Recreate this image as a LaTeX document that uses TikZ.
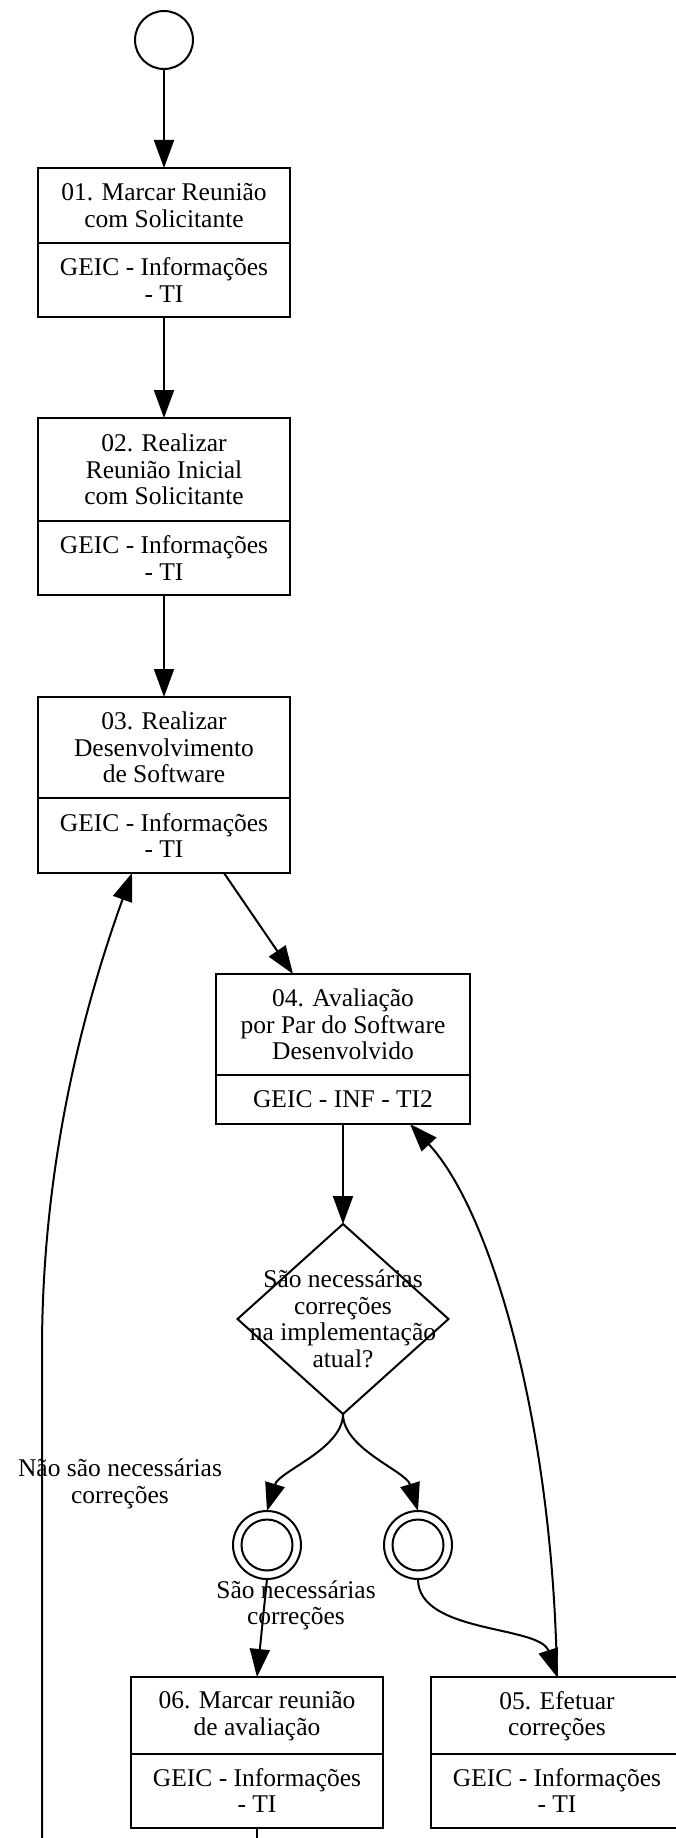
\documentclass[tikz,border=0pt]{standalone}
\usepackage{fontspec}
\setmainfont{Liberation Serif}
\usetikzlibrary{shapes.geometric,arrows.meta}
\begin{document}
\begin{tikzpicture}[x=1pt,y=-1pt,
  every node/.style={inner sep=0pt, outer sep=0pt},
  txt/.style={align=center, font=\fontsize{25.5}{26.5}\selectfont},
  proc/.style={draw, line width=2pt, rectangle, minimum width=252pt},
  conn/.style={line width=2pt, -{Triangle[length=28pt,width=20pt]}},
  plain/.style={line width=2pt},
  ring/.style={draw, circle, line width=2pt}
]
\useasboundingbox (0,0) rectangle (676,1838);

% start
\node[ring, minimum size=58pt] (start) at (164,40) {};

% box 01
\node[proc, minimum height=149pt] (b1) at (164,242.5) {};
\draw[plain] ([yshift=-75pt]b1.north west) -- ([yshift=-75pt]b1.north east);
\node[txt] (t1a) at (164,205.5) {01. Marcar Reunião\\com Solicitante};
\node[txt] (t1b) at (164,280) {GEIC - Informações\\- TI};

% box 02
\node[proc, minimum height=177pt] (b2) at (164,506.5) {};
\draw[plain] ([yshift=-103pt]b2.north west) -- ([yshift=-103pt]b2.north east);
\node[txt] (t2a) at (164,469.5) {02. Realizar\\Reunião Inicial\\com Solicitante};
\node[txt] (t2b) at (164,558) {GEIC - Informações\\- TI};

% box 03
\node[proc, minimum height=176pt] (b3) at (164,785) {};
\draw[plain] ([yshift=-101pt]b3.north west) -- ([yshift=-101pt]b3.north east);
\node[txt] (t3a) at (164,747.5) {03. Realizar\\Desenvolvimento\\de Software};
\node[txt] (t3b) at (164,835.5) {GEIC - Informações\\- TI};

% box 04
\node[proc, minimum width=254pt, minimum height=150pt] (b4) at (343,1049) {};
\draw[plain] ([yshift=-101pt]b4.north west) -- ([yshift=-101pt]b4.north east);
\node[txt] (t4a) at (343,1024.5) {04. Avaliação\\por Par do Software\\Desenvolvido};
\node[txt] (t4b) at (343,1099.5) {GEIC - INF - TI2};

% decision
\node[diamond, draw, line width=2pt, minimum width=211pt, minimum height=190pt] (dec) at (343,1319) {};
\node[txt] (dect) at (343,1319) {São necessárias\\correções\\na implementação\\atual?};

% intermediate events
\node[ring, minimum size=68pt] (c1) at (267,1545) {};
\node[ring, minimum size=51pt] (c1i) at (267,1545) {};
\node[ring, minimum size=68pt] (c2) at (418,1545) {};
\node[ring, minimum size=51pt] (c2i) at (418,1545) {};

% box 06
\node[proc, minimum height=151pt] (b6) at (257,1752.5) {};
\draw[plain] ([yshift=-77pt]b6.north west) -- ([yshift=-77pt]b6.north east);
\node[txt] (t6a) at (257,1716) {06. Marcar reunião\\de avaliação};
\node[txt] (t6b) at (257,1790.5) {GEIC - Informações\\- TI};

% box 05
\node[proc, minimum height=151pt] (b5) at (557,1752.5) {};
\draw[plain] ([yshift=-77pt]b5.north west) -- ([yshift=-77pt]b5.north east);
\node[txt] (t5a) at (557,1716) {05. Efetuar\\correções};
\node[txt] (t5b) at (557,1790.5) {GEIC - Informações\\- TI};

% labels
\node[txt] (lno) at (120,1484) {Não são necessárias\\correções};
\node[txt] (lyes) at (296,1605.5) {São necessárias\\correções};

% off-canvas ends
\coordinate (offB) at (257,1870);
\coordinate (offL) at (42,1870);
\coordinate (bendL) at (42,1350);

% connectors
\draw[conn] (start) -- (b1);
\draw[conn] (b1) -- (b2);
\draw[conn] (b2) -- (b3);
\draw[conn] ([xshift=60pt]b3.south) -- ([xshift=-50pt]b4.north);
\draw[conn] (b4) -- (dec);
\draw[conn] (dec.south) .. controls +(0,35) and +(12,-40) .. (c1.north);
\draw[conn] (dec.south) .. controls +(0,35) and +(-12,-40) .. (c2.north);
\draw[conn] (c1.south) -- (b6.north);
\draw[conn] (c2.south) .. controls +(0,55) and +(-17,-52) .. (b5.north);
\draw[conn] (b5.north) .. controls (553,1420) and (490,1210) .. ([xshift=67pt]b4.south);
\draw[plain] (b6.south) -- (offB);
\draw[conn] (offL) -- (bendL) .. controls (42,1150) and (90,990) .. ([xshift=-32pt]b3.south);
\end{tikzpicture}
\end{document}
